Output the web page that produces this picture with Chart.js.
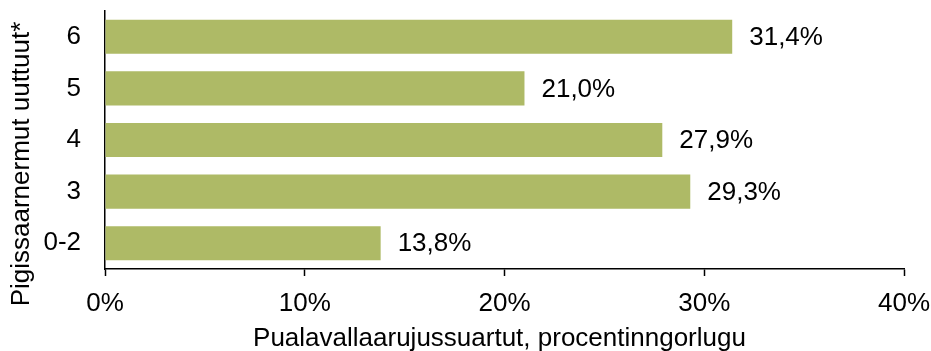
<!DOCTYPE html>
<html>
<head>
<meta charset="utf-8">
<script src="https://cdn.jsdelivr.net/npm/chart.js@4"></script>
<style>
    html, body { margin: 0; padding: 0; background: #fff; }
    #chart { display: block; }
</style>
</head>
<body>
<canvas id="chart" width="931" height="351"></canvas>
<script>
// Data
const categories = ['6', '5', '4', '3', '0-2'];
const shares = [31.4, 21.0, 27.9, 29.3, 13.8];
const xTicks = [0, 10, 20, 30, 40];

const xTitle = 'Pualavallaarujussuartut, procentinngorlugu';
const yTitle = 'Pigissaarnermut uuttuut*';

const FONT = '"Liberation Sans", Arial, sans-serif';
const BAR_COLOR = '#aeba66';

const pct = v => v.toFixed(1).replace('.', ',') + '%';

// Value labels to the right of each bar
const valueLabels = {
    id: 'valueLabels',
    afterDatasetsDraw(chart) {
        const { ctx } = chart;
        const meta = chart.getDatasetMeta(0);
        ctx.save();
        ctx.font = `26px ${FONT}`;
        ctx.fillStyle = '#000';
        ctx.textAlign = 'left';
        ctx.textBaseline = 'middle';
        meta.data.forEach((bar, i) => {
            ctx.fillText(pct(shares[i]), bar.x + 17, bar.y + 1);
        });
        ctx.restore();
    }
};

// Axis titles
const axisTitles = {
    id: 'axisTitles',
    afterDraw(chart) {
        const { ctx, chartArea } = chart;
        ctx.save();
        ctx.font = `26px ${FONT}`;
        ctx.fillStyle = '#000';
        ctx.textAlign = 'center';
        ctx.textBaseline = 'alphabetic';
        ctx.fillText(xTitle, (chartArea.left + chartArea.right) / 2 - 5, 346);

        ctx.translate(29, 164);
        ctx.rotate(-Math.PI / 2);
        ctx.fillText(yTitle, 0, 0);
        ctx.restore();
    }
};

new Chart(document.getElementById('chart'), {
    type: 'bar',
    data: {
        labels: categories,
        datasets: [{
            data: shares,
            backgroundColor: BAR_COLOR,
            borderWidth: 0,
            categoryPercentage: 1,
            barPercentage: 0.66
        }]
    },
    options: {
        indexAxis: 'y',
        responsive: false,
        animation: false,
        layout: { padding: { top: 11, right: 27, left: 0, bottom: 0 } },
        plugins: {
            legend: { display: false },
            tooltip: { enabled: false }
        },
        scales: {
            x: {
                min: 0,
                max: 40,
                afterBuildTicks: scale => {
                    scale.ticks = xTicks.map(v => ({ value: v }));
                },
                afterFit: scale => {
                    scale.height = 82;
                    scale.paddingLeft = 0;
                    scale.paddingRight = 0;
                },
                grid: {
                    display: true,
                    drawOnChartArea: false,
                    drawTicks: true,
                    tickLength: 7,
                    tickWidth: 1.5,
                    tickColor: '#000'
                },
                border: { display: true, color: '#000', width: 1.5 },
                ticks: {
                    color: '#000',
                    padding: 12,
                    maxRotation: 0,
                    font: { family: FONT, size: 26 },
                    callback: v => v + '%'
                }
            },
            y: {
                afterFit: scale => {
                    scale.width = 105;
                    scale.paddingTop = 0;
                    scale.paddingBottom = 0;
                },
                grid: { display: false, drawTicks: false },
                border: { display: true, color: '#000', width: 1.5 },
                ticks: {
                    color: '#000',
                    padding: 24,
                    font: { family: FONT, size: 26 }
                }
            }
        }
    },
    plugins: [valueLabels, axisTitles]
});
</script>
</body>
</html>
